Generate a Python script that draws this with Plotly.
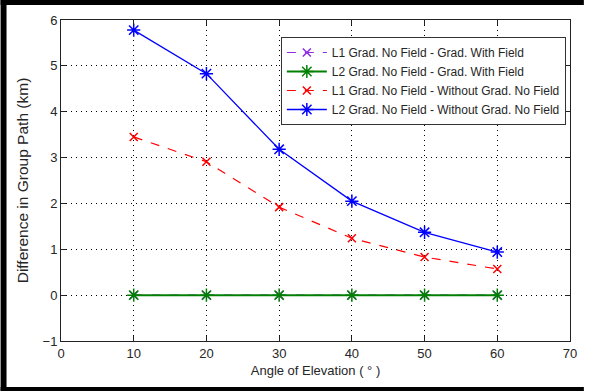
import plotly.graph_objects as go

angles = [10, 20, 30, 40, 50, 60]
l1_grad_field = [0, 0, 0, 0, 0, 0]
l2_grad_field = [0, 0, 0, 0, 0, 0]
l1_without_grad = [3.45, 2.91, 1.92, 1.24, 0.83, 0.57]
l2_without_grad = [5.78, 4.83, 3.18, 2.05, 1.37, 0.94]

names = [
    "L1 Grad. No Field - Grad. With Field",
    "L2 Grad. No Field - Grad. With Field",
    "L1 Grad. No Field - Without Grad. No Field",
    "L2 Grad. No Field - Without Grad. No Field",
]

W, H = 589, 391
L, R, T, B = 61, 14, 20, 50
pw, ph = W - L - R, H - T - B

def px(x):
    return (x - L) / pw

def py(y):
    return (H - B - y) / ph

fig = go.Figure()
fig.add_trace(go.Scatter(x=angles, y=l1_grad_field, name=names[0], mode="lines+markers",
                         line=dict(color="#8a2be2", width=1.2, dash="dash"),
                         marker=dict(symbol="x-thin-open", size=8, line=dict(width=1.5, color="#8a2be2"))))
fig.add_trace(go.Scatter(x=angles, y=l2_grad_field, name=names[1], mode="lines+markers",
                         line=dict(color="#008000", width=2),
                         marker=dict(symbol="asterisk-open", size=11, line=dict(width=1.5, color="#008000"))))
fig.add_trace(go.Scatter(x=angles, y=l1_without_grad, name=names[2], mode="lines+markers",
                         line=dict(color="#ff0000", width=1.2, dash="dash"),
                         marker=dict(symbol="x-thin-open", size=8, line=dict(width=1.5, color="#ff0000"))))
fig.add_trace(go.Scatter(x=angles, y=l2_without_grad, name=names[3], mode="lines+markers",
                         line=dict(color="#0000ff", width=1.3),
                         marker=dict(symbol="asterisk-open", size=11, line=dict(width=1.5, color="#0000ff"))))

FONT = "Liberation Sans, Arial, sans-serif"
axis_common = dict(
    showgrid=True, gridcolor="#000000", gridwidth=1, griddash="1px,4px",
    zeroline=False, showline=True, linecolor="#222222", linewidth=1,
    mirror="ticks", ticks="inside", ticklen=5, tickcolor="#222222",
    tickfont=dict(family=FONT, size=13, color="#262626"),
)

fig.update_xaxes(range=[0, 70], dtick=10, title_text="Angle of Elevation ( ° )",
                 title_standoff=6, title_font=dict(family=FONT, size=13, color="#262626"),
                 **axis_common)
fig.update_yaxes(range=[-1, 6], dtick=1, title_text="Difference in Group Path (km)",
                 title_standoff=10, title_font=dict(family=FONT, size=15.5, color="#262626"),
                 **axis_common)

shapes = [
    dict(type="rect", xref="paper", yref="paper", x0=px(0), x1=px(W), y0=py(0), y1=py(5),
         fillcolor="black", line=dict(width=0), layer="above"),
    dict(type="rect", xref="paper", yref="paper", x0=px(0), x1=px(6), y0=py(0), y1=py(H),
         fillcolor="black", line=dict(width=0), layer="above"),
    dict(type="rect", xref="paper", yref="paper", x0=px(0), x1=px(W), y0=py(387), y1=py(H),
         fillcolor="black", line=dict(width=0), layer="above"),
]

fig.update_layout(
    width=W, height=H,
    margin=dict(l=L, r=R, t=T, b=B, pad=0),
    paper_bgcolor="white", plot_bgcolor="white",
    font=dict(family=FONT, size=12, color="#262626"),
    showlegend=True,
    legend=dict(x=px(283), y=py(37), xanchor="left", yanchor="top",
                bgcolor="white", bordercolor="#333333", borderwidth=1,
                font=dict(size=12, color="#262626"), tracegroupgap=0,
                itemwidth=40),
    shapes=shapes,
)

fig.write_html("out.html", config={"displayModeBar": False},
               post_script="document.body.style.margin='0px';document.body.style.overflow='hidden';")
